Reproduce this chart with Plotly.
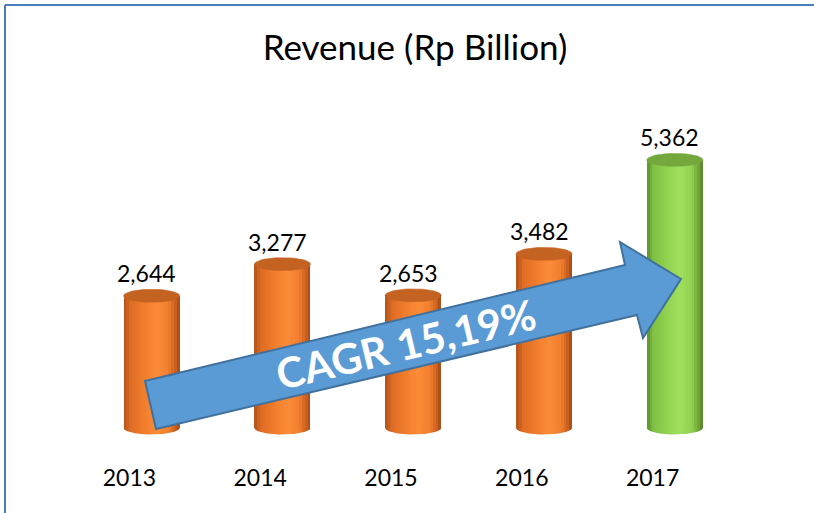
import math
import plotly.graph_objects as go

# ---- data ----
years = ["2013", "2014", "2015", "2016", "2017"]
revenue = [2644, 3277, 2653, 3482, 5362]
title_text = "Revenue (Rp Billion)"
cagr_text = "CAGR 15,19%"

# ---- layout geometry ----
W, H = 814, 513
L, R, T, B = 64, 96, 100, 51
PW, PH = W - L - R, H - T - B
Y_MIN, Y_MAX = -680, 6560
BAR_SHIFT = 0.17
BAR_W = 0.428
CAP = 130  # ellipse half-height in y units
FONT = "Lato"

def px_x(px):
    return (px - L) / PW

def px_y(py):
    return (H - B - py) / PH

# colour scales across the cylinder (left -> right)
orange_scale = [(0.0, (176, 82, 24)), (0.12, (222, 108, 36)), (0.35, (240, 124, 44)),
                (0.6, (252, 140, 56)), (0.8, (240, 126, 46)), (0.93, (200, 94, 30)),
                (1.0, (160, 72, 20))]
green_scale = [(0.0, (92, 145, 44)), (0.12, (128, 192, 68)), (0.35, (145, 210, 80)),
               (0.6, (160, 224, 94)), (0.8, (146, 208, 80)), (0.93, (110, 165, 54)),
               (1.0, (84, 128, 38))]
orange_top = "rgb(196,98,34)"
green_top = "rgb(116,168,60)"

def sample(scale, u):
    for (a, ca), (b, cb) in zip(scale[:-1], scale[1:]):
        if a <= u <= b:
            t = (u - a) / (b - a)
            c = [round(ca[i] + (cb[i] - ca[i]) * t) for i in range(3)]
            return f"rgb({c[0]},{c[1]},{c[2]})"
    c = scale[-1][1]
    return f"rgb({c[0]},{c[1]},{c[2]})"

scales = [orange_scale] * (len(years) - 1) + [green_scale]
tops = [orange_top] * (len(years) - 1) + [green_top]

x_idx = list(range(len(years)))
xpos = [i + BAR_SHIFT for i in x_idx]

fig = go.Figure()

# cylinder bodies: shaded strips of bars
N = 20
sw = BAR_W / N
for k in range(N):
    u = (k + 0.5) / N
    fig.add_trace(go.Bar(
        x=xpos, y=revenue,
        width=sw * 1.6 if k < N - 1 else sw,
        offset=-BAR_W / 2 + k * sw,
        marker=dict(color=[sample(s, u) for s in scales], line=dict(width=0)),
        hoverinfo="skip", showlegend=False,
    ))

# bottom half-ellipses and top ellipses
M = 60
for xc, v, s, top in zip(xpos, revenue, scales, tops):
    bx = [xc + BAR_W / 2 * math.cos(math.pi + math.pi * j / M) for j in range(M + 1)]
    by = [CAP * math.sin(math.pi + math.pi * j / M) for j in range(M + 1)]
    fig.add_trace(go.Scatter(
        x=bx, y=by, mode="lines", line=dict(width=0), fill="toself",
        fillgradient=dict(type="horizontal",
                          colorscale=[[p, sample(s, p)] for p, _ in s]),
        hoverinfo="skip", showlegend=False,
    ))
    tx = [xc + BAR_W / 2 * math.cos(2 * math.pi * j / M) for j in range(M + 1)]
    ty = [v + CAP * math.sin(2 * math.pi * j / M) for j in range(M + 1)]
    fig.add_trace(go.Scatter(
        x=tx, y=ty, mode="lines", line=dict(width=0.6, color=top), fill="toself",
        fillcolor=top, hoverinfo="skip", showlegend=False,
    ))

# value labels
for xc, v in zip(xpos, revenue):
    fig.add_annotation(x=xc, y=v + CAP, text=f"{v:,}", showarrow=False,
                       xanchor="center", yanchor="bottom", xshift=-5,
                       font=dict(family=FONT, size=23, color="black"))

# arrow
arrow_px = [(145, 381), (625, 265), (620, 242), (681, 279), (643, 338), (637, 315), (156, 429)]
path = "M " + " L ".join(f"{px_x(a):.5f},{px_y(b):.5f}" for a, b in arrow_px) + " Z"
fig.add_shape(type="path", path=path, xref="paper", yref="paper",
              fillcolor="#5B9BD5", line=dict(color="#41719C", width=2), layer="above")
fig.add_annotation(x=px_x(405), y=px_y(344), xref="paper", yref="paper",
                   text=f"<b>{cagr_text}</b>", showarrow=False, textangle=-13.5,
                   xanchor="center", yanchor="middle",
                   font=dict(family=FONT, size=42, color="white"))

# frame lines
fc = "#4A7EBB"
fig.add_shape(type="line", xref="paper", yref="paper", x0=px_x(5), y0=px_y(5), x1=px_x(816), y1=px_y(5),
              line=dict(color=fc, width=2))
fig.add_shape(type="line", xref="paper", yref="paper", x0=px_x(5), y0=px_y(5), x1=px_x(5), y1=px_y(515),
              line=dict(color=fc, width=2))

fig.update_layout(
    width=W, height=H,
    margin=dict(l=L, r=R, t=T, b=B),
    paper_bgcolor="white", plot_bgcolor="white",
    barmode="overlay", bargap=0,
    showlegend=False,
    title=dict(text=title_text, x=415 / W, y=1 - 48 / H, xref="container", yref="container",
               xanchor="center", yanchor="middle",
               font=dict(family=FONT, size=35, color="black")),
    xaxis=dict(range=[-0.5, 4.5], tickvals=x_idx, ticktext=years, showgrid=False,
               zeroline=False, showline=False, ticks="",
               tickfont=dict(family=FONT, size=23, color="black")),
    yaxis=dict(range=[Y_MIN, Y_MAX], visible=False, showgrid=False, zeroline=False),
)

fig.write_html("out.html", config={"displayModeBar": False},
               post_script="document.body.style.margin='0';document.body.style.overflow='hidden';")
